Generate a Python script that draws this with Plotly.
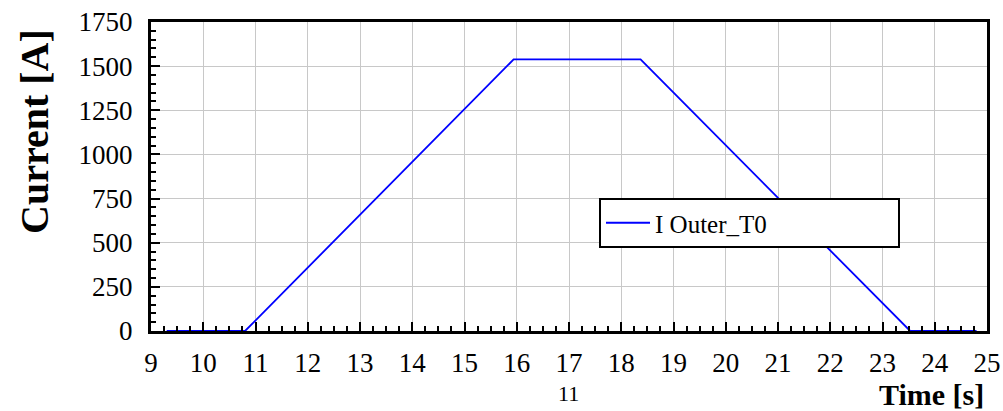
import plotly.graph_objects as go

# Data
time_s = [9.3, 10.8, 15.94, 18.37, 23.53, 24.8]
current_a = [0, 0, 1538, 1538, 0, 0]
series_name = "I Outer_T0"
x_ticks = list(range(9, 26))
y_ticks = [0, 250, 500, 750, 1000, 1250, 1500, 1750]

W, H = 1003, 411
L, R, T, B = 151, 16, 22, 80
pw, ph = W - L - R, H - T - B

def px(x):
    return (x - L) / pw

def py(y):
    return (H - B - y) / ph

FONT = "Liberation Serif"

fig = go.Figure()
fig.add_trace(go.Scatter(x=time_s, y=current_a, mode="lines", name=series_name,
                         line=dict(color="#0000ff", width=1.8)))

axis_common = dict(showline=True, linecolor="black", linewidth=3, mirror=True,
                   showgrid=True, gridcolor="#c8c8c8", gridwidth=1,
                   ticks="inside", tickcolor="black", tickwidth=2, ticklen=9,
                   tickfont=dict(family=FONT, size=27, color="black"),
                   zeroline=False, automargin=False)

fig.update_xaxes(range=[9, 25], tickvals=x_ticks, **axis_common,
                 minor=dict(dtick=0.25, ticks="inside", ticklen=5, tickwidth=2,
                            tickcolor="black", showgrid=False),
                 ticklabelstandoff=6)
fig.update_yaxes(range=[0, 1750], tickvals=y_ticks, **axis_common,
                 minor=dict(dtick=50, ticks="inside", ticklen=5, tickwidth=2,
                            tickcolor="black", showgrid=False),
                 ticklabelstandoff=10)

fig.update_layout(
    width=W, height=H,
    font=dict(family=FONT, color="black"),
    margin=dict(l=L, r=R, t=T, b=B, pad=0, autoexpand=False),
    plot_bgcolor="white", paper_bgcolor="white",
    showlegend=True,
    legend=dict(x=px(599), y=py(198), xanchor="left", yanchor="top",
                orientation="h",
                bgcolor="white", bordercolor="black", borderwidth=2,
                font=dict(family=FONT, size=25, color="black"),
                itemwidth=44, entrywidth=238, entrywidthmode="pixels",
                tracegroupgap=0),
    annotations=[
        dict(text="<b>Current [A]</b>", xref="paper", yref="paper",
             x=px(34), y=py(131), xanchor="center", yanchor="middle",
             textangle=-90, showarrow=False,
             font=dict(family=FONT, size=40, color="black")),
        dict(text="<b>Time [s]</b>", xref="paper", yref="paper",
             x=px(986), y=py(394), xanchor="right", yanchor="middle",
             showarrow=False, font=dict(family=FONT, size=30, color="black")),
        dict(text="11", xref="paper", yref="paper",
             x=px(568), y=py(393), xanchor="center", yanchor="middle",
             showarrow=False, font=dict(family=FONT, size=22, color="black")),
    ],
)

fig.write_html("out.html")
